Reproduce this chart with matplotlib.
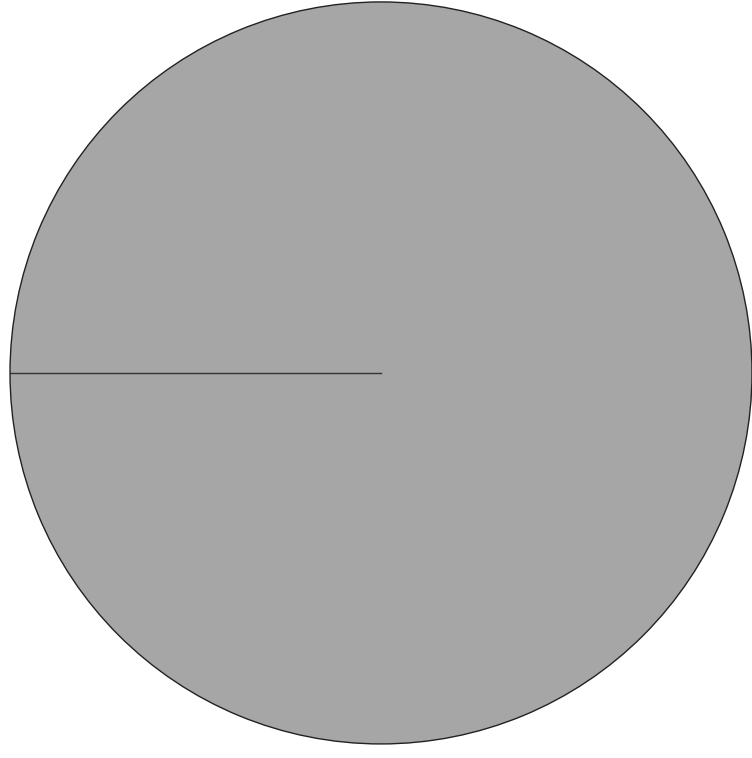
import matplotlib
matplotlib.use("Agg")
import matplotlib.pyplot as plt
import numpy as np

# one category, full circle
labels = ["All"]
values = [100]
colors = ["#a6a6a6"]

fig = plt.figure(figsize=(7.52, 7.58), dpi=100)
ax = fig.add_axes([0.0133, 0.0185, 0.9867, 0.979])

wedges, _ = ax.pie(values, colors=colors, startangle=180, counterclock=False,
                   wedgeprops={"edgecolor": "#222222", "linewidth": 1.0})

# a full 360 wedge loses its radial edge, so draw the start edge by hand
w = wedges[0]
ang = np.deg2rad(w.theta2)
cx, cy = w.center
ax.plot([cx, cx + w.r * np.cos(ang)], [cy, cy + w.r * np.sin(ang)],
        color="#333333", linewidth=1.0)

ax.set_xlim(-1.0, 1.0)
ax.set_ylim(-1.0, 1.0)
ax.set_aspect("equal")
ax.axis("off")

fig.savefig("out.png", dpi=100)
